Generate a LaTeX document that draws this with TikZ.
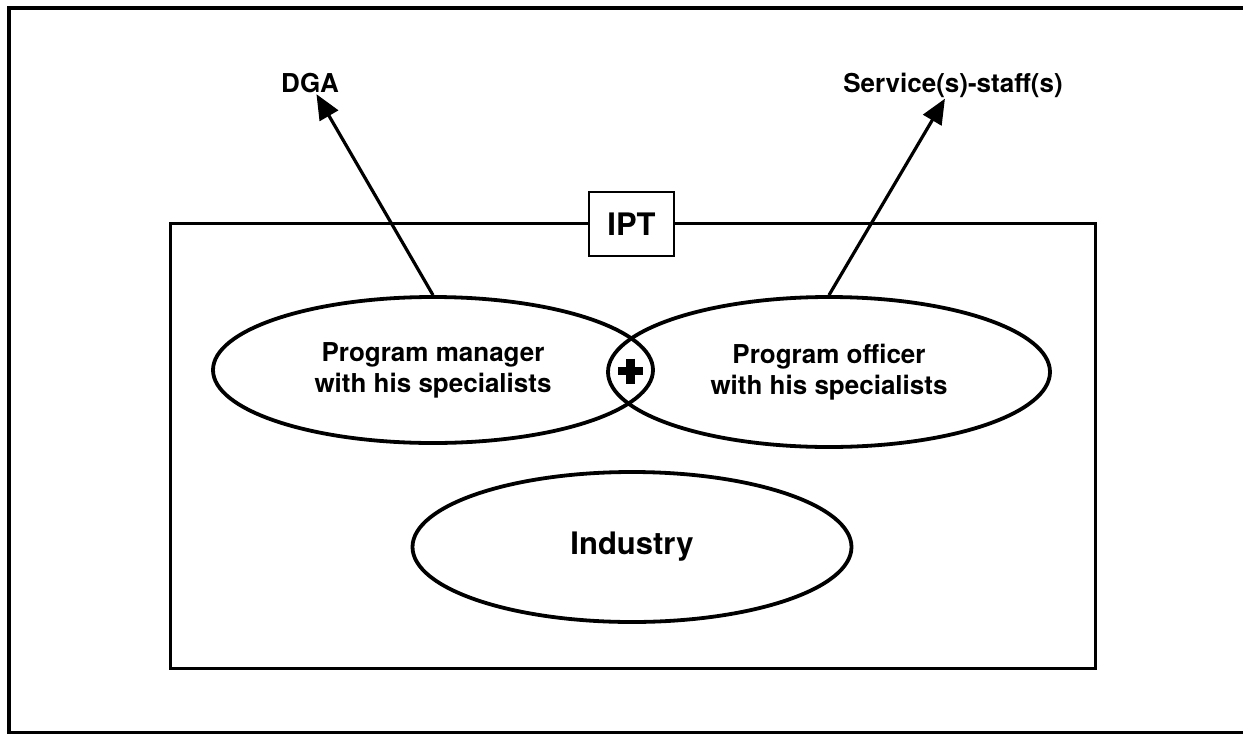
\documentclass[tikz,border=0pt]{standalone}
\usepackage{fontspec}
\setmainfont{TeX Gyre Heros}
\usetikzlibrary{shapes.geometric,arrows.meta,calc}

\begin{document}
\begin{tikzpicture}[x=0.5pt,y=-0.5pt,
  every node/.style={font=\bfseries\fontsize{13}{15.5}\selectfont},
  group/.style={draw,ellipse,line width=1.9pt,align=center,minimum width=220pt,minimum height=73pt},
  big/.style={font=\bfseries\fontsize{15.5}{18}\selectfont},
  label/.style={inner sep=0.5pt},
  link/.style={-{Triangle[length=12.5pt,width=10.5pt]},line width=1.6pt}]
\useasboundingbox (0,0) rectangle (1243,734);
\draw[line width=1.6pt] (1270,8) -- (9,8) -- (9,733) -- (1270,733);
\draw[line width=1.5pt] (170,223) rectangle (1095,668);
\node[draw,fill=white,big,line width=1.3pt,minimum width=42.5pt,minimum height=32pt] (ipt) at (631.5,224) {IPT};
\node[group] (pm) at (433,370) {Program manager\\with his specialists};
\node[group,minimum width=221pt,minimum height=75pt] (po) at (829,372) {Program officer\\with his specialists};
\node[group,big,minimum width=219.5pt,minimum height=75pt] (ind) at (632,547) {Industry};
\node[label] (dga) at (310,83) {DGA};
\node[label] (svc) at (953,85) {Service(s)-staff(s)};
\coordinate (plus) at ($(pm.east)!0.5!(po.west)$);
\draw[line width=4.4pt] ($(plus)+(-12.5,0)$) -- ($(plus)+(12.5,0)$)
  ($(plus)+(0,-12.5)$) -- ($(plus)+(0,12.5)$);
\path[link]
(pm.north) edge (dga)
(po.north) edge (svc)
;
\end{tikzpicture}
\end{document}
